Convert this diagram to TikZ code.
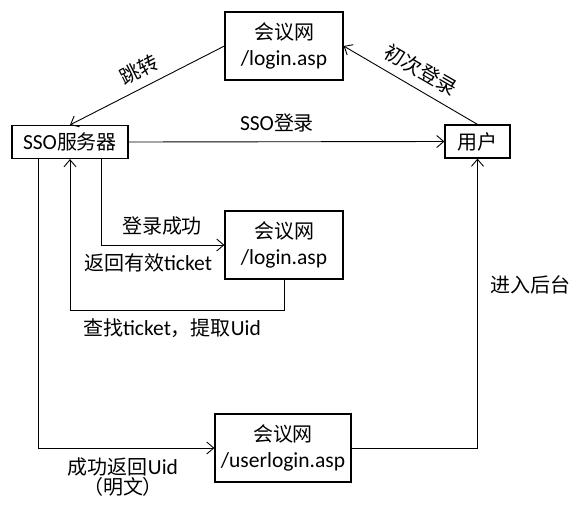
\documentclass[tikz,border=0pt]{standalone}
\usepackage{fontspec}
\setmainfont{Carlito}
\newfontfamily\cjk[Scale=0.93]{Noto Sans CJK SC}
\usetikzlibrary{arrows.meta}
\newcommand\zh[1]{{\cjk #1}}
\begin{document}
\begin{tikzpicture}[x=1pt,y=-1pt,
  every node/.style={font=\fontsize{21.5}{26}\selectfont, inner sep=0pt},
  box/.style={draw, line width=1.2pt, align=center, minimum height=68pt},
  smallbox/.style={draw, line width=1.2pt, align=center, minimum height=33pt},
  arr/.style={-{Straight Barb[length=7pt,width=12pt]}, line width=0.9pt},
  lbl/.style={align=center}]
\useasboundingbox (0,0) rectangle (581,512);
\node[box, minimum width=118pt] (top) at (284,46) {\zh{会议网}\\/login.asp};
\node[smallbox, minimum width=116pt] (sso) at (70,142) {SSO\zh{服务器}};
\node[smallbox, minimum width=65pt] (user) at (477.5,141.5) {\zh{用户}};
\node[box, minimum width=118pt] (mid) at (284,245) {\zh{会议网}\\/login.asp};
\node[box, minimum width=136pt] (bot) at (283,448) {\zh{会议网}\\/userlogin.asp};
\coordinate (c1) at (70,310);
\draw[arr] (top.west) -- (sso.north);
\draw[arr] (user.north) -- (top.east);
\draw[arr] (sso.east) -- (user.west);
\draw[arr] ([xshift=-27pt]sso.south east) |- (mid.west);
\draw[arr] (mid.south) |- (c1) -- (sso.south);
\draw[arr] ([xshift=27pt]sso.south west) |- (bot.west);
\draw[arr] (bot.east) -| (user.south);
\node[rotate=27] (l1) at (139,70) {\zh{跳转}};
\node[rotate=-30] (l2) at (421,70) {\zh{初次登录}};
\node (l3) at (277,123) {SSO\zh{登录}};
\node (l4) at (162,226) {\zh{登录成功}};
\node (l5) at (148,263) {\zh{返回有效}ticket};
\node (l6) at (172,328) {\zh{查找}ticket\zh{，提取}Uid};
\node (l7) at (530,285) {\zh{进入后台}};
\node[lbl, font=\fontsize{21.5}{20}\selectfont] (l8) at (123,477) {\zh{成功返回}Uid\\\zh{（明文）}};
\end{tikzpicture}
\end{document}
